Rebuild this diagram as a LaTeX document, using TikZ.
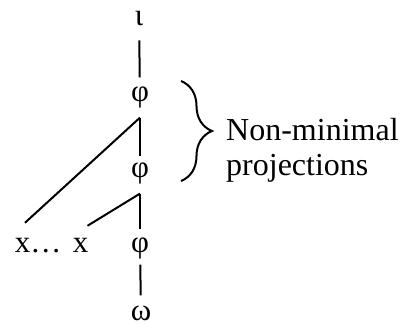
\documentclass[tikz,border=0pt]{standalone}
\usepackage{fontspec}
\setmainfont{Liberation Serif}
\usetikzlibrary{positioning, calc, decorations.pathreplacing}
\tikzset{
  % Labels of the tree
  treelabel/.style={
    inner sep=0pt, outer sep=0pt,
    font=\fontsize{31}{35}\selectfont
  },
  % Text beside the brace
  bracelabel/.style={
    inner sep=0pt, align=left,
    font=\fontsize{32}{35}\selectfont
  },
  % Branches
  branch/.style={
    -, line width=2pt
  },
  % Curly brace
  curlybrace/.style={
    decorate, line width=2pt,
    decoration={brace, amplitude=31pt}
  },
}

\begin{document}
\begin{tikzpicture}[x=1pt, y=-1pt]
  \useasboundingbox (0,0) rectangle (408,327);

  %% ── Tree labels ──
  \node[treelabel, anchor=base] (iota)  at (139,25)  {ι};
  \node[treelabel, anchor=base] (phiA)  at (140,101) {φ};
  \node[treelabel, anchor=base] (phiB)  at (140,177) {φ};
  \node[treelabel, anchor=base] (phiC)  at (140,252) {φ};
  \node[treelabel, anchor=base] (omega) at (141,320) {ω};
  \node[treelabel, anchor=base west] (xDots) at (15,252) {x…};
  \node[treelabel, anchor=base west] (xLast) at (73,252) {x};

  %% ── Branch points ──
  \coordinate (forkA) at ($(phiA.south)+(0,10)$);
  \coordinate (forkB) at ($(phiB.south)+(0,10)$);

  %% ── Branches ──
  \draw[branch, shorten <=15pt, shorten >=9pt] (iota) -- (phiA);
  \draw[branch, shorten >=6pt] (forkA) -- (phiB);
  \draw[branch] (forkA) -- ($(xDots.north west)+(10,-15)$);
  \draw[branch, shorten >=8pt] (forkB) -- (phiC);
  \draw[branch] (forkB) -- ($(xLast.north east)+(-1,-12)$);
  \draw[branch, shorten <=6pt, shorten >=10pt] (phiC) -- (omega);

  %% ── Brace ──
  \draw[curlybrace] (181,81) -- (181,181);
  \node[bracelabel, anchor=north west] (proj) at (226,118) {Non-minimal\\projections};

\end{tikzpicture}
\end{document}
